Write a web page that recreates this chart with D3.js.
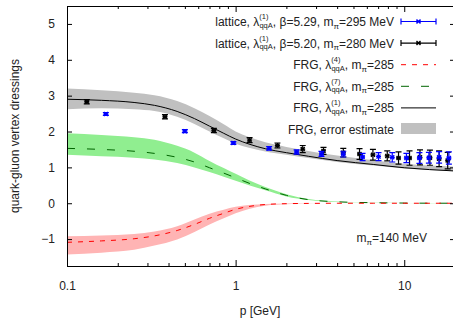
<!DOCTYPE html>
<html>
<head>
<meta charset="utf-8">
<script src="https://cdn.jsdelivr.net/npm/d3@7"></script>
<style>
body { margin: 0; background: #fff; }
text { font-family: "Liberation Sans", Arial, sans-serif; font-size: 12px; fill: #222; }
</style>
</head>
<body>
<div id="chart"></div>
<script>
// lattice data, beta=5.29, m_pi=295 MeV (blue)
const latBlueP = [0.17, 0.50, 0.97, 1.58, 2.30, 3.23, 4.35, 5.66, 7.04, 8.49, 10.3, 12.3, 14.0, 16.1, 18.4];
const latBlueV = [2.49, 2.01, 1.68, 1.53, 1.43, 1.375, 1.37, 1.29, 1.30, 1.28, 1.26, 1.26, 1.27, 1.28, 1.26];
const latBlueE = [0.04, 0.04, 0.04, 0.05, 0.06, 0.07, 0.08, 0.10, 0.11, 0.13, 0.13, 0.15, 0.15, 0.16, 0.17];

// lattice data, beta=5.20, m_pi=280 MeV (black)
const latBlackP = [0.131, 0.381, 0.743, 1.21, 1.77, 2.50, 3.32, 4.35, 5.43, 6.52, 7.93, 9.25, 10.75, 12.4, 14.2, 16.1, 18.1];
const latBlackV = [2.83, 2.41, 2.03, 1.76, 1.61, 1.51, 1.46, 1.41, 1.375, 1.35, 1.32, 1.26, 1.26, 1.28, 1.27, 1.24, 1.19];
const latBlackE = [0.06, 0.06, 0.06, 0.07, 0.07, 0.10, 0.10, 0.12, 0.15, 0.15, 0.14, 0.17, 0.20, 0.21, 0.21, 0.22, 0.23];

// FRG curves
const pGrid = [0.1, 0.16, 0.25, 0.33, 0.45, 0.57, 0.7, 0.85, 1.0, 1.2, 1.5, 2.0, 2.7, 4, 6.6, 10, 20];
const lam1   = [2.90, 2.87, 2.81, 2.73, 2.56, 2.36, 2.15, 1.95, 1.79, 1.65, 1.52, 1.41, 1.31, 1.19, 1.08, 0.99, 0.90];
const lam1Lo = [2.62, 2.65, 2.62, 2.57, 2.41, 2.21, 2.00, 1.81, 1.66, 1.55, 1.44, 1.35, 1.26, 1.15, 1.05, 0.97, 0.89];
const lam1Hi = [3.20, 3.15, 3.08, 3.01, 2.85, 2.65, 2.43, 2.20, 2.00, 1.85, 1.70, 1.57, 1.46, 1.33, 1.20, 1.10, 1.02];
const lam7   = [1.53, 1.50, 1.45, 1.39, 1.28, 1.15, 0.99, 0.84, 0.71, 0.56, 0.40, 0.22, 0.10, 0.04, 0.015, 0.005, 0];
const lam7Lo = [1.35, 1.31, 1.27, 1.22, 1.12, 1.00, 0.87, 0.74, 0.63, 0.50, 0.36, 0.19, 0.09, 0.035, 0.012, 0.004, 0];
const lam7Hi = [1.95, 1.90, 1.84, 1.77, 1.60, 1.41, 1.18, 0.98, 0.82, 0.64, 0.45, 0.25, 0.12, 0.05, 0.02, 0.008, 0];
const lam4   = [-1.09, -1.05, -0.99, -0.91, -0.76, -0.59, -0.42, -0.28, -0.17, -0.09, -0.035, -0.012, -0.005, 0, 0, 0, 0];
const lam4Lo = [-1.43, -1.38, -1.30, -1.18, -1.01, -0.80, -0.59, -0.42, -0.28, -0.16, -0.07, -0.03, -0.01, -0.003, 0, 0, 0];
const lam4Hi = [-0.92, -0.90, -0.86, -0.79, -0.64, -0.45, -0.29, -0.18, -0.10, -0.05, -0.02, -0.005, 0, 0, 0, 0, 0];

// ticks
const xMajor = [0.1, 1, 10];
const xMinor = [0.2, 0.3, 0.4, 0.5, 0.6, 0.7, 0.8, 0.9, 2, 3, 4, 5, 6, 7, 8, 9, 20];
const yTicks = [-1, 0, 1, 2, 3, 4, 5];

let width = 453, height = 320;
let plot = { left: 67, right: 455, top: 6, bottom: 266 };

let svg = d3.select("#chart")
    .append("svg")
    .attr("width", width)
    .attr("height", height);

let x = d3.scaleLog().domain([0.1, 20]).range([plot.left, plot.right]);
let y = d3.scaleLinear().domain([-1.75, 5.5]).range([plot.bottom, plot.top]);

svg.append("clipPath").attr("id", "clip")
    .append("rect")
    .attr("x", plot.left).attr("y", plot.top)
    .attr("width", plot.right - plot.left).attr("height", plot.bottom - plot.top);

let g = svg.append("g").attr("clip-path", "url(#clip)");

// bands
function band(lo, hi, color) {
    let area = d3.area()
        .x((d, i) => x(pGrid[i]))
        .y0((d, i) => y(lo[i]))
        .y1((d, i) => y(hi[i]))
        .curve(d3.curveMonotoneX);
    g.append("path").datum(pGrid).attr("d", area).attr("fill", color);
}
band(lam1Lo, lam1Hi, "#c0c0c0");
band(lam7Lo, lam7Hi, "#90ee90");
band(lam4Lo, lam4Hi, "#ffb4b4");

// lines
function curve(vals, color, dash) {
    let line = d3.line()
        .x((d, i) => x(pGrid[i]))
        .y((d, i) => y(vals[i]))
        .curve(d3.curveMonotoneX);
    g.append("path").datum(pGrid).attr("d", line)
        .attr("fill", "none").attr("stroke", color).attr("stroke-width", 1)
        .attr("stroke-dasharray", dash);
}
curve(lam7, "#006400", "8,12");
curve(lam4, "#ff0000", "5,6");
curve(lam1, "#000000", null);

// lattice points with error bars
function marker(sel, cx, cy, color) {
    sel.append("path")
        .attr("d", `M${cx - 2},${cy - 2}L${cx + 2},${cy + 2}M${cx - 2},${cy + 2}L${cx + 2},${cy - 2}M${cx - 2.5},${cy}H${cx + 2.5}`)
        .attr("stroke", color).attr("stroke-width", 1.4);
}
function lattice(ps, vs, es, color) {
    ps.forEach((p, i) => {
        let cx = x(p), y0 = y(vs[i] - es[i]), y1 = y(vs[i] + es[i]);
        g.append("path")
            .attr("d", `M${cx},${y0}V${y1}M${cx - 3},${y0}H${cx + 3}M${cx - 3},${y1}H${cx + 3}`)
            .attr("stroke", color).attr("stroke-width", 1.2).attr("fill", "none");
        marker(g, cx, y(vs[i]), color);
    });
}
lattice(latBlackP, latBlackV, latBlackE, "#000000");
lattice(latBlueP, latBlueV, latBlueE, "#0000ff");

// axes
svg.append("g")
    .attr("transform", `translate(0,${plot.bottom})`)
    .call(d3.axisBottom(x).tickValues(xMajor).tickSize(-6).tickPadding(15).tickFormat(d3.format("")))
    .call(s => s.select(".domain").remove());
svg.append("g")
    .attr("transform", `translate(0,${plot.bottom})`)
    .call(d3.axisBottom(x).tickValues(xMinor).tickSize(-3).tickFormat(""))
    .call(s => s.select(".domain").remove());
svg.append("g")
    .attr("transform", `translate(0,${plot.top})`)
    .call(d3.axisTop(x).tickValues(xMajor).tickSize(-6).tickFormat(""))
    .call(s => s.select(".domain").remove());
svg.append("g")
    .attr("transform", `translate(0,${plot.top})`)
    .call(d3.axisTop(x).tickValues(xMinor).tickSize(-3).tickFormat(""))
    .call(s => s.select(".domain").remove());
svg.append("g")
    .attr("transform", `translate(${plot.left},0)`)
    .call(d3.axisLeft(y).tickValues(yTicks).tickSize(-5).tickPadding(12))
    .call(s => s.select(".domain").remove());
svg.append("g")
    .attr("transform", `translate(${plot.right},0)`)
    .call(d3.axisRight(y).tickValues(yTicks).tickSize(-5).tickFormat(""))
    .call(s => s.select(".domain").remove());

svg.selectAll(".tick text")
    .attr("font-size", 12)
    .attr("font-family", "'Liberation Sans', Arial, sans-serif")
    .attr("fill", "#222");

// frame
svg.append("rect")
    .attr("x", plot.left + 0.5).attr("y", plot.top + 0.5)
    .attr("width", plot.right - plot.left).attr("height", plot.bottom - plot.top)
    .attr("fill", "none").attr("stroke", "#000").attr("stroke-width", 1);

// axis labels
svg.append("text")
    .attr("x", (plot.left + plot.right) / 2 - 1)
    .attr("y", 315)
    .attr("text-anchor", "middle")
    .text("p [GeV]");

svg.append("text")
    .attr("transform", "rotate(-90)")
    .attr("x", -(plot.top + plot.bottom) / 2)
    .attr("y", 19)
    .attr("text-anchor", "middle")
    .text("quark-gluon vertex dressings");

// legend
const legX = 394, sx0 = 401, sx1 = 436;
function lambdaLabel(yb, pre, sup, post, mpi) {
    let t = svg.append("text").attr("x", legX).attr("y", yb).attr("text-anchor", "end");
    t.append("tspan").text(pre + "λ");
    t.append("tspan").attr("dy", -7).attr("font-size", 7.5).text(sup);
    t.append("tspan").attr("dx", -9).attr("dy", 8.5).attr("font-size", 7.5).text("qqA");
    t.append("tspan").attr("dy", -1.5).text(post + "m");
    t.append("tspan").attr("dy", 2.5).attr("font-size", 8).text("π");
    t.append("tspan").attr("dy", -2.5).text("=" + mpi);
}
const rowY = [26, 47.6, 69.2, 90.8, 112.4, 134];

lambdaLabel(rowY[0], "lattice, ", "(1)", ", β=5.29, ", "295 MeV");
lambdaLabel(rowY[1], "lattice, ", "(1)", ", β=5.20, ", "280 MeV");
lambdaLabel(rowY[2], "FRG, ", "(4)", ", ", "285");
lambdaLabel(rowY[3], "FRG, ", "(7)", ", ", "285");
lambdaLabel(rowY[4], "FRG, ", "(1)", ", ", "285");
svg.append("text").attr("x", legX).attr("y", rowY[5]).attr("text-anchor", "end").text("FRG, error estimate");

function legErr(yc, color) {
    svg.append("path")
        .attr("d", `M${sx0},${yc}H${sx1}M${sx0},${yc - 3}V${yc + 3}M${sx1},${yc - 3}V${yc + 3}`)
        .attr("stroke", color).attr("stroke-width", 1.2).attr("fill", "none");
    marker(svg, (sx0 + sx1) / 2, yc, color);
}
legErr(rowY[0] - 4.5, "#0000ff");
legErr(rowY[1] - 4.5, "#000000");
function legLine(yc, color, dash) {
    svg.append("line").attr("x1", sx0).attr("x2", sx1).attr("y1", yc).attr("y2", yc)
        .attr("stroke", color).attr("stroke-width", 1).attr("stroke-dasharray", dash);
}
legLine(rowY[2] - 4.5, "#ff0000", "5,6");
legLine(rowY[3] - 4.5, "#006400", "8,12");
legLine(rowY[4] - 4.5, "#000000", null);
svg.append("rect").attr("x", sx0).attr("y", rowY[5] - 11).attr("width", sx1 - sx0).attr("height", 11)
    .attr("fill", "#c0c0c0");

// pion mass note
let note = svg.append("text").attr("x", 427).attr("y", 242).attr("text-anchor", "end");
note.append("tspan").text("m");
note.append("tspan").attr("dy", 2.5).attr("font-size", 8).text("π");
note.append("tspan").attr("dy", -2.5).text("=140 MeV");
</script>
</body>
</html>
